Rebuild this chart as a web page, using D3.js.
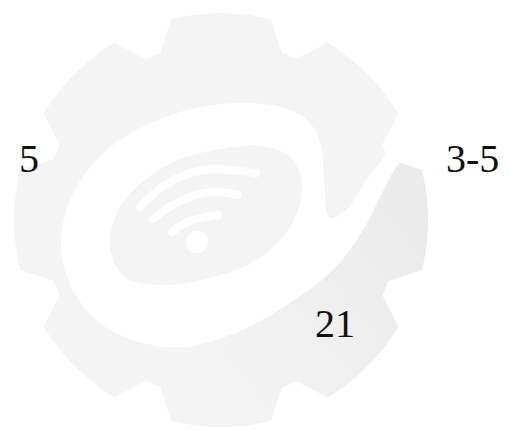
<!DOCTYPE html>
<html>
<head>
<meta charset="utf-8">
<script src="https://cdn.jsdelivr.net/npm/d3@7"></script>
<style>
  html, body { margin: 0; padding: 0; background: #ffffff; }
  svg { display: block; }
</style>
</head>
<body>
<div id="chart"></div>
<script>
var width = 509,
    height = 430;

// the three figures printed over the watermark
var labels = ["5", "3-5", "21"];
var labelIds = ["left", "right", "bottom"];

// gear: 8 teeth, one every 45 degrees
var toothAngles = [0, 45, 90, 135, 180, 225, 270, 315];

// wifi arcs, smallest first
var wifiArcs = ["inner", "middle", "outer"];

var GEAR_CX = 221, GEAR_CY = 220;
var TIP_R = 207, ROOT_R = 178;
var TIP_HALF = 14, ROOT_HALF = 20;
var LIGHT = "#f4f4f4";

var rad = function(deg) { return deg * Math.PI / 180; };

var svg = d3.select("#chart").append("svg")
    .attr("width", width)
    .attr("height", height);

var defs = svg.append("defs");

var shade = defs.append("linearGradient")
    .attr("id", "shade")
    .attr("gradientUnits", "userSpaceOnUse")
    .attr("x1", 220).attr("y1", 400)
    .attr("x2", 420).attr("y2", 240);
shade.append("stop").attr("offset", 0).attr("stop-color", "#f4f4f4");
shade.append("stop").attr("offset", 1).attr("stop-color", "#ebebeb");

// ---- gear outline built from the tooth angles
var gearPts = [];
toothAngles.forEach(function(a) {
    gearPts.push([rad(a - ROOT_HALF), ROOT_R]);
    for (var t = a - TIP_HALF; t <= a + TIP_HALF; t += 2) {
        gearPts.push([rad(t), TIP_R]);
    }
    for (var r = a + ROOT_HALF; r <= a + 45 - ROOT_HALF; r += 1) {
        gearPts.push([rad(r), ROOT_R]);
    }
});

var gearLine = d3.lineRadial()
    .angle(function(d) { return d[0]; })
    .radius(function(d) { return d[1]; })
    .curve(d3.curveLinearClosed);

defs.append("clipPath")
    .attr("id", "gearClip")
  .append("path")
    .attr("transform", "translate(" + GEAR_CX + "," + GEAR_CY + ")")
    .attr("d", gearLine(gearPts));

var logo = svg.append("g")
    .attr("clip-path", "url(#gearClip)");

logo.append("path")
    .attr("transform", "translate(" + GEAR_CX + "," + GEAR_CY + ")")
    .attr("d", gearLine(gearPts))
    .attr("fill", LIGHT);

// white swoosh outline, clockwise from the left side; the thin tail
// leaves the gear through the notch on the upper right
var swooshTop = [
    [62, 258], [70, 200], [105, 152], [160, 119], [222, 104], [280, 107],
    [308, 121], [321, 145], [324, 178], [330, 218], [346, 210], [364, 184], [380, 162], [394, 146]
];
var swooshTail = [
    [405, 154], [394, 170], [381, 195], [363, 230], [335, 268], [290, 303], [235, 333],
    [183, 347]
];
var swooshBottom = [[130, 339], [88, 312]];
var swooshPts = swooshTop.concat(swooshTail, swooshBottom);

// grey leaf holding the wifi sign
var leafPts = [
    [110, 248], [117, 213], [140, 184], [176, 161], [220, 149], [262, 146],
    [290, 157], [302, 180], [298, 210], [282, 238], [250, 264], [205, 279],
    [160, 285], [125, 277]
];

// darker part outside the swoosh, lower right
var darkPts = swooshTail.concat([[183, 430], [509, 430], [509, 154]]);
logo.append("path")
    .attr("d", d3.line().curve(d3.curveLinearClosed)(darkPts))
    .attr("fill", "url(#shade)");

logo.append("path")
    .attr("d", d3.line().curve(d3.curveCatmullRomClosed)(swooshPts))
    .attr("fill", "#ffffff");

logo.append("path")
    .attr("d", d3.line().curve(d3.curveCatmullRomClosed)(leafPts))
    .attr("fill", LIGHT);

// wifi symbol
var arcPts = {
    inner:  [[172, 232], [190, 221], [218, 215]],
    middle: [[153, 219], [180, 201], [213, 192], [238, 195]],
    outer:  [[140, 207], [165, 185], [205, 170], [256, 173]]
};
logo.selectAll(".wifi")
    .data(wifiArcs)
    .enter()
    .append("path")
        .attr("class", "wifi")
        .attr("d", function(d) { return d3.line().curve(d3.curveNatural)(arcPts[d]); })
        .attr("fill", "none")
        .attr("stroke", "#ffffff")
        .attr("stroke-width", 8)
        .attr("stroke-linecap", "round");

logo.append("circle")
    .attr("cx", 197).attr("cy", 242)
    .attr("r", 11)
    .attr("fill", "#ffffff");

// ---- labels
var labelPos = {
    left:   [19, 172],
    right:  [446, 172],
    bottom: [315, 337]
};

svg.selectAll(".label")
    .data(labels)
    .enter()
    .append("text")
        .attr("class", "label")
        .attr("x", function(d, i) { return labelPos[labelIds[i]][0]; })
        .attr("y", function(d, i) { return labelPos[labelIds[i]][1]; })
        .attr("font-family", "'Liberation Serif', 'Times New Roman', serif")
        .attr("font-size", "40px")
        .attr("fill", "#111111")
        .text(function(d) { return d; });
</script>
</body>
</html>
